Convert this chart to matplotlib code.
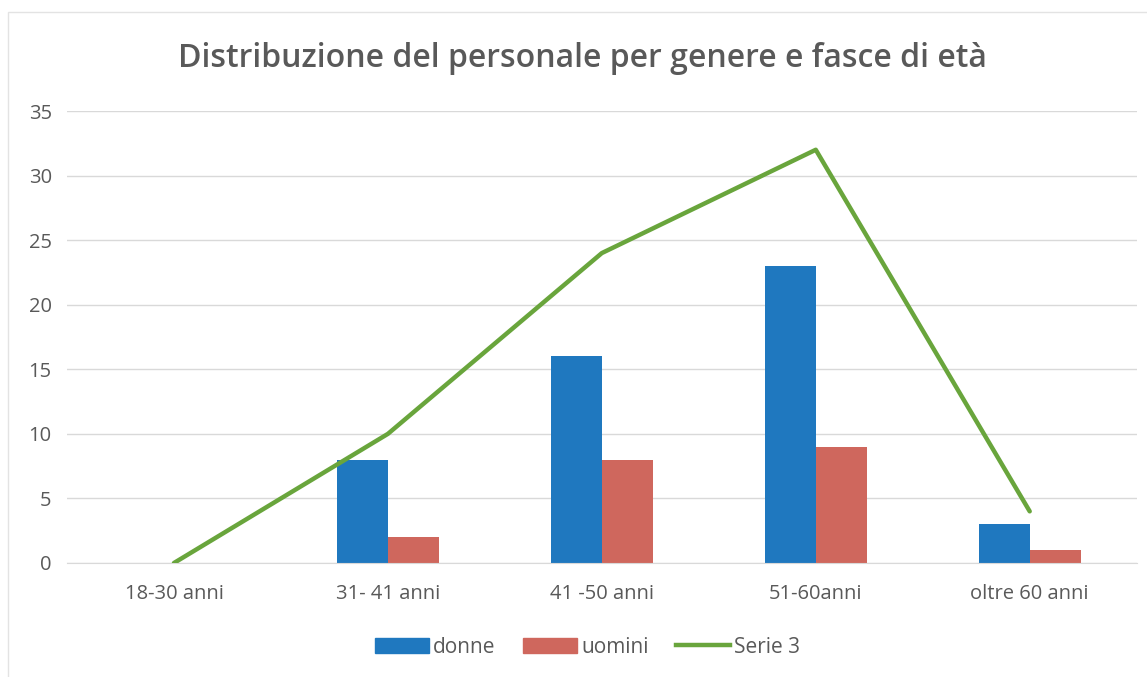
import matplotlib.pyplot as plt
import numpy as np
from matplotlib.lines import Line2D
from matplotlib.patches import Rectangle

# Age bands and counts
CATEGORIES = ["18-30 anni", "31- 41 anni", "41 -50 anni", "51-60anni", "oltre 60 anni"]
DONNE = [0, 8, 16, 23, 3]
UOMINI = [0, 2, 8, 9, 1]
SERIE3 = [0, 10, 24, 32, 4]
Y_TICKS = [0, 5, 10, 15, 20, 25, 30, 35]

BLUE = "#1f78bf"
RED = "#cf675d"
GREEN = "#69a53c"
TEXT = "#595959"

plt.rcParams["font.family"] = ["Open Sans", "DejaVu Sans"]

fig = plt.figure(figsize=(11.47, 6.77), dpi=100)
ax = fig.add_axes([0.0584, 0.1684, 0.9326, 0.6676])

x = np.arange(len(CATEGORIES))
bar_w = 0.238
ax.bar(x - bar_w / 2, DONNE, width=bar_w, color=BLUE, zorder=2)
ax.bar(x + bar_w / 2, UOMINI, width=bar_w, color=RED, zorder=2)
ax.plot(x, SERIE3, color=GREEN, linewidth=3.2, zorder=3, solid_capstyle="round")

ax.set_xlim(-0.5, len(CATEGORIES) - 0.5)
ax.set_ylim(0, 35)
ax.set_yticks(Y_TICKS)
ax.set_xticks(x)
ax.set_xticklabels(CATEGORIES)
ax.tick_params(axis="both", length=0, labelsize=14.5, colors=TEXT)
ax.tick_params(axis="x", pad=15)
ax.tick_params(axis="y", pad=11)
ax.grid(axis="y", color="#d9d9d9", linewidth=1, zorder=0)
for side in ["top", "right", "left"]:
    ax.spines[side].set_visible(False)
ax.spines["bottom"].set_color("#d9d9d9")

fig.text(0.508, 0.914, "Distribuzione del personale per genere e fasce di età",
         ha="center", va="center", fontsize=23, color=TEXT, fontweight="semibold")

handles = [
    Rectangle((0, 0), 1, 1, color=BLUE),
    Rectangle((0, 0), 1, 1, color=RED),
    Line2D([0], [0], color=GREEN, linewidth=3.2),
]
fig.legend(handles, ["donne", "uomini", "Serie 3"], loc="center",
           bbox_to_anchor=(0.512, 0.044), ncol=3, frameon=False,
           fontsize=15, labelcolor=TEXT, handlelength=2.6, handleheight=0.8,
           handletextpad=0.2, columnspacing=1.3)

# faint chart border from the scan
fig.patches.append(Rectangle((0.007, -0.01), 1.0, 0.992, transform=fig.transFigure,
                             fill=False, edgecolor="#e3e3e3", linewidth=1))

fig.savefig("out.png", dpi=100, facecolor="white")
